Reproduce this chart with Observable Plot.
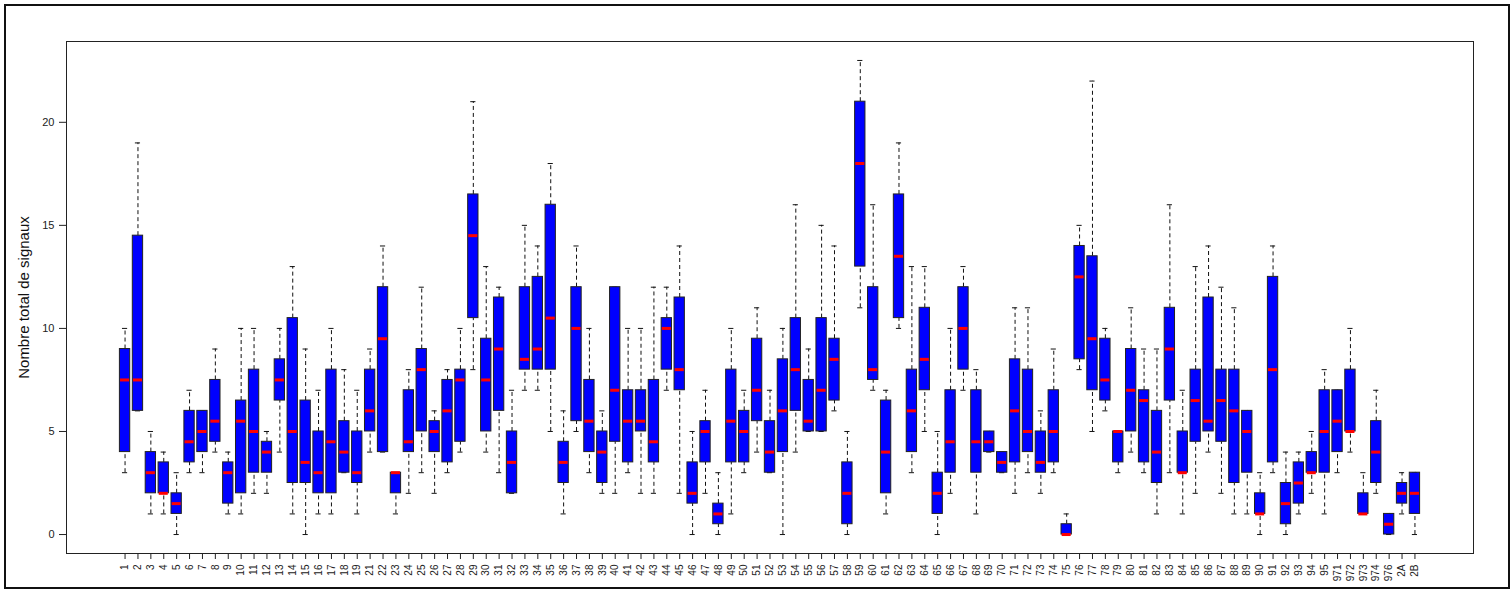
<!DOCTYPE html>
<html>
<head>
<meta charset="utf-8">
<script src="https://cdn.jsdelivr.net/npm/d3@7"></script>
<script src="https://cdn.jsdelivr.net/npm/@observablehq/plot@0.6"></script>
<style>
  html, body { margin: 0; padding: 0; background: #fff; }
  #wrap { position: relative; width: 1512px; height: 590px; overflow: hidden; }
  #border { position: absolute; left: 4px; top: 4px; width: 1502px; height: 581px; border: 2px solid #111; pointer-events: none; }
</style>
</head>
<body>
<div id="wrap"><div id="border"></div></div>
<script>
// Categories (départements)
const categories = ["1","2","3","4","5","6","7","8","9","10","11","12","13","14","15","16","17","18","19",
  "21","22","23","24","25","26","27","28","29","30","31","32","33","34","35","36","37","38","39","40",
  "41","42","43","44","45","46","47","48","49","50","51","52","53","54","55","56","57","58","59","60",
  "61","62","63","64","65","66","67","68","69","70","71","72","73","74","75","76","77","78","79","80",
  "81","82","83","84","85","86","87","88","89","90","91","92","93","94","95",
  "971","972","973","974","976","2A","2B"];

// Lower whisker ends
const whiskerLow = [3,6,1,1,0,3,3,4,1,1,2,2,4,1,0,1,1,3,1,
  4,4,1,2,3,2,3,4,8,4,3,2,7,7,5,1,5,3,2,2,
  3,2,2,7,2,0,2,0,1,3,4,3,0,4,5,5,6,0,11,7,
  1,10,3,5,0,2,7,1,4,3,2,3,2,3,0,8,5,6,3,4,
  3,1,3,1,2,4,2,1,1,0,3,0,1,2,1,
  3,4,1,2,0,1,0];
// First quartile
const q1 = [4,6,2,2,1,3.5,4,4.5,1.5,2,3,3,6.5,2.5,2.5,2,2,3,2.5,
  5,4,2,4,5,4,3.5,4.5,10.5,5,6,2,8,8,8,2.5,5.5,4,2.5,4.5,
  3.5,5,3.5,8,7,1.5,3.5,0.5,3.5,3.5,5.5,3,4,6,5,5,6.5,0.5,13,7.5,
  2,10.5,4,7,1,3,8,3,4,3,3.5,4,3,3.5,0,8.5,7,6.5,3.5,5,
  3.5,2.5,6.5,3,4.5,5,4.5,2.5,3,1,3.5,0.5,1.5,3,3,
  4,5,1,2.5,0,1.5,1];
// Medians
const median = [7.5,7.5,3,2,1.5,4.5,5,5.5,3,5.5,5,4,7.5,5,3.5,3,4.5,4,3,
  6,9.5,3,4.5,8,5,6,7.5,14.5,7.5,9,3.5,8.5,9,10.5,3.5,10,5.5,4,7,
  5.5,5.5,4.5,10,8,2,5,1,5.5,5,7,4,6,8,5.5,7,8.5,2,18,8,
  4,13.5,6,8.5,2,4.5,10,4.5,4.5,3.5,6,5,3.5,5,0,12.5,9.5,7.5,5,7,
  6.5,4,9,3,6.5,5.5,6.5,6,5,1,8,1.5,2.5,3,5,
  5.5,5,1,4,0.5,2,2];
// Third quartile
const q3 = [9,14.5,4,3.5,2,6,6,7.5,3.5,6.5,8,4.5,8.5,10.5,6.5,5,8,5.5,5,
  8,12,3,7,9,5.5,7.5,8,16.5,9.5,11.5,5,12,12.5,16,4.5,12,7.5,5,12,
  7,7,7.5,10.5,11.5,3.5,5.5,1.5,8,6,9.5,5.5,8.5,10.5,7.5,10.5,9.5,3.5,21,12,
  6.5,16.5,8,11,3,7,12,7,5,4,8.5,8,5,7,0.5,14,13.5,9.5,5,9,
  7,6,11,5,8,11.5,8,8,6,2,12.5,2.5,3.5,4,7,
  7,8,2,5.5,1,2.5,3];
// Upper whisker ends
const whiskerHigh = [10,19,5,4,3,7,6,9,4,10,10,5,10,13,9,7,10,8,7,
  9,14,3,8,12,6,8,10,21,13,12,7,15,14,18,6,14,10,6,12,
  10,10,12,12,14,5,7,3,10,7,11,7,10,16,9,15,14,5,23,16,
  7,19,13,13,5,10,13,8,5,4,11,11,6,9,1,15,22,10,5,11,
  9,9,16,7,13,14,12,11,6,3,14,4,4,5,8,
  7,10,3,7,1,3,3];

const yTicks = [0, 5, 10, 15, 20];
const yLabel = "Nombre total de signaux";

const rows = categories.map((c, k) => ({
  i: k + 1, cat: c,
  lo: whiskerLow[k], q1: q1[k], med: median[k], q3: q3[k], hi: whiskerHigh[k]
}));

const halfBox = 0.4, halfStaple = 0.2;

const chart = Plot.plot({
  width: 1512,
  height: 590,
  marginLeft: 66,
  marginRight: 39,
  marginTop: 41,
  marginBottom: 37,
  style: { fontFamily: "'Liberation Sans', Arial, sans-serif", color: "#222", background: "transparent" },
  x: { type: "linear", domain: [-3.54, 105.54] },
  y: { domain: [-0.92, 23.92] },
  marks: [
    Plot.frame({ stroke: "#222", strokeWidth: 1 }),
    // whiskers
    Plot.ruleX(rows, { x: "i", y1: "q3", y2: "hi", stroke: "#111", strokeDasharray: "4,3", strokeWidth: 1 }),
    Plot.ruleX(rows, { x: "i", y1: "lo", y2: "q1", stroke: "#111", strokeDasharray: "4,3", strokeWidth: 1 }),
    // staples
    Plot.ruleY(rows, { y: "hi", x1: d => d.i - halfStaple, x2: d => d.i + halfStaple, stroke: "#111", strokeWidth: 1 }),
    Plot.ruleY(rows, { y: "lo", x1: d => d.i - halfStaple, x2: d => d.i + halfStaple, stroke: "#111", strokeWidth: 1 }),
    // boxes
    Plot.rect(rows, { x1: d => d.i - halfBox, x2: d => d.i + halfBox, y1: "q1", y2: "q3", fill: "#0000ff", stroke: "#222", strokeWidth: 1 }),
    // medians
    Plot.ruleY(rows, { y: "med", x1: d => d.i - halfBox + 0.05, x2: d => d.i + halfBox - 0.05, stroke: "#ff0000", strokeWidth: 3 }),
    // axes
    Plot.axisY({ ticks: yTicks, tickSize: 7, tickPadding: 5, fontSize: 11, label: null }),
    Plot.axisX({ ticks: rows.map(d => d.i), tickFormat: i => categories[i - 1], tickRotate: -90, tickSize: 6, tickPadding: 5, fontSize: 10, label: null }),
    Plot.text([yLabel], { frameAnchor: "left", dx: -42, rotate: -90, textAnchor: "middle", fontSize: 15, fill: "#111" })
  ]
});

document.getElementById("wrap").prepend(chart);
</script>
</body>
</html>
